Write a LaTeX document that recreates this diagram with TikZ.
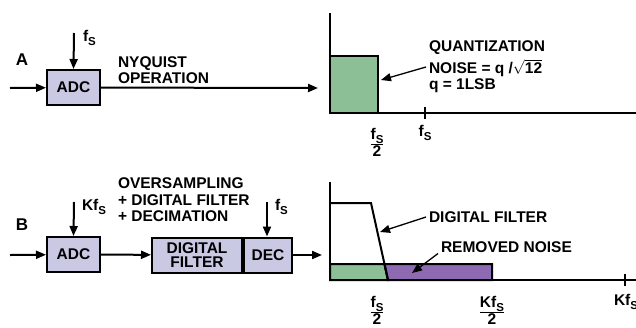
\documentclass[tikz,border=0pt]{standalone}
\usepackage{fontspec}
\setmainfont{Liberation Sans}
\usetikzlibrary{arrows.meta, positioning}

\definecolor{boxfill}{HTML}{C9C9E4}
\definecolor{noisegreen}{HTML}{8CBF95}
\definecolor{noisepurple}{HTML}{8E6AB2}
\setlength{\arrayrulewidth}{1.6pt}
\newcommand{\fsub}{f\raisebox{-0.4ex}{\fontsize{11.5}{11.5}\selectfont S}}
\newcommand{\half}[1]{\begin{tabular}{@{}c@{}}#1\\[-1pt]\hline 2\end{tabular}}

\begin{document}
\begin{tikzpicture}[>={Triangle[length=10pt,width=8pt]}, x=1pt, y=-1pt,
    line width=2pt,
    font=\fontsize{15.5}{16.5}\selectfont\bfseries,
    blockbox/.style={draw, fill=boxfill, minimum height=35pt, inner sep=0pt},
    lbl/.style={align=left, anchor=west, inner sep=0pt},
    pointer/.style={->, line width=1.3pt}]
  \useasboundingbox (0,0) rectangle (636,327);

  % A: Nyquist operation
  \node[font=\fontsize{17}{17}\selectfont\bfseries] (labA) at (22,60) {A};
  \node[blockbox, minimum width=53pt] (adcA) at (73.5,87.5) {ADC};
  \coordinate (inA) at (10,88);
  \coordinate (clkA) at (74,33);
  \coordinate (outA) at (318,88);
  \draw[->] (inA) -- (adcA);
  \draw[->] (clkA) -- (adcA.north);
  \node[anchor=west, inner sep=0pt] (fsA) at (82,38) {\fsub};
  \node[lbl] (nyq) at (117,70) {NYQUIST\\OPERATION};
  \draw[->] (adcA) -- (outA);

  % A: spectrum
  \draw[fill=noisegreen] (330,56) rectangle (378,113);
  \draw (330,13) -- (330,113) -- (636,113);
  \draw (425,107) -- (425,119);
  \node (halfA) at (377,145) {\half{\fsub}};
  \node (fsAx) at (425,133) {\fsub};
  \node[lbl] (qnoise) at (428,67) {QUANTIZATION\\[4pt]NOISE = q /$\sqrt{\hbox{12}}$\\q = 1LSB};
  \coordinate (qend) at (381,80);
  \draw[pointer] ([xshift=-2pt]qnoise.west) -- (qend);

  % B: oversampling
  \node[font=\fontsize{17}{17}\selectfont\bfseries] (labB) at (22,225) {B};
  \node[blockbox, minimum width=53pt] (adcB) at (73.5,254.5) {ADC};
  \coordinate (inB) at (10,255);
  \coordinate (clkB) at (74,202);
  \draw[->] (inB) -- (adcB);
  \draw[->] (clkB) -- (adcB.north);
  \node[anchor=west, inner sep=0pt] (kfsB) at (81,207) {K\fsub};
  \node[lbl] (overs) at (117,200) {OVERSAMPLING\\+ DIGITAL FILTER\\+ DECIMATION};
  \node[blockbox, minimum width=90pt, align=center,
        font=\fontsize{15.5}{14.5}\selectfont\bfseries] (filt) at (197,255) {DIGITAL\\FILTER};
  \node[blockbox, minimum width=48pt, right=0pt of filt] (dec) {DEC};
  \draw[->] (adcB) -- (filt);
  \coordinate (clkD) at (267,202);
  \draw[->] (clkD) -- (clkD |- dec.north);
  \node[anchor=west, inner sep=0pt] (fsD) at (274,207) {\fsub};
  \coordinate (outB) at (322,255);
  \draw[->] (dec) -- (outB);

  % B: spectrum
  \draw[fill=noisegreen] (330,264) -- (384.5,264) -- (388,280) -- (330,280) -- cycle;
  \draw[fill=noisepurple] (384.5,264) -- (492,264) -- (492,280) -- (388,280) -- cycle;
  \draw (330,203) -- (371,203) -- (388,280);
  \draw (330,182) -- (330,280) -- (636,280);
  \draw (625,274) -- (625,286);
  \node (halfB) at (377,313) {\half{\fsub}};
  \node (khalfB) at (492,313) {\half{K\fsub}};
  \node[anchor=west, inner sep=0pt] (kfsAx) at (613,302) {K\fsub};
  \node[lbl] (dflbl) at (428,217) {DIGITAL FILTER};
  \coordinate (dfend) at (380,232);
  \draw[pointer] ([xshift=-2pt]dflbl.west) -- (dfend);
  \node[lbl] (rmlbl) at (440,247) {REMOVED NOISE};
  \coordinate (rmend) at (412,273);
  \draw[pointer] ([xshift=-2pt]rmlbl.south west) -- (rmend);
\end{tikzpicture}
\end{document}
